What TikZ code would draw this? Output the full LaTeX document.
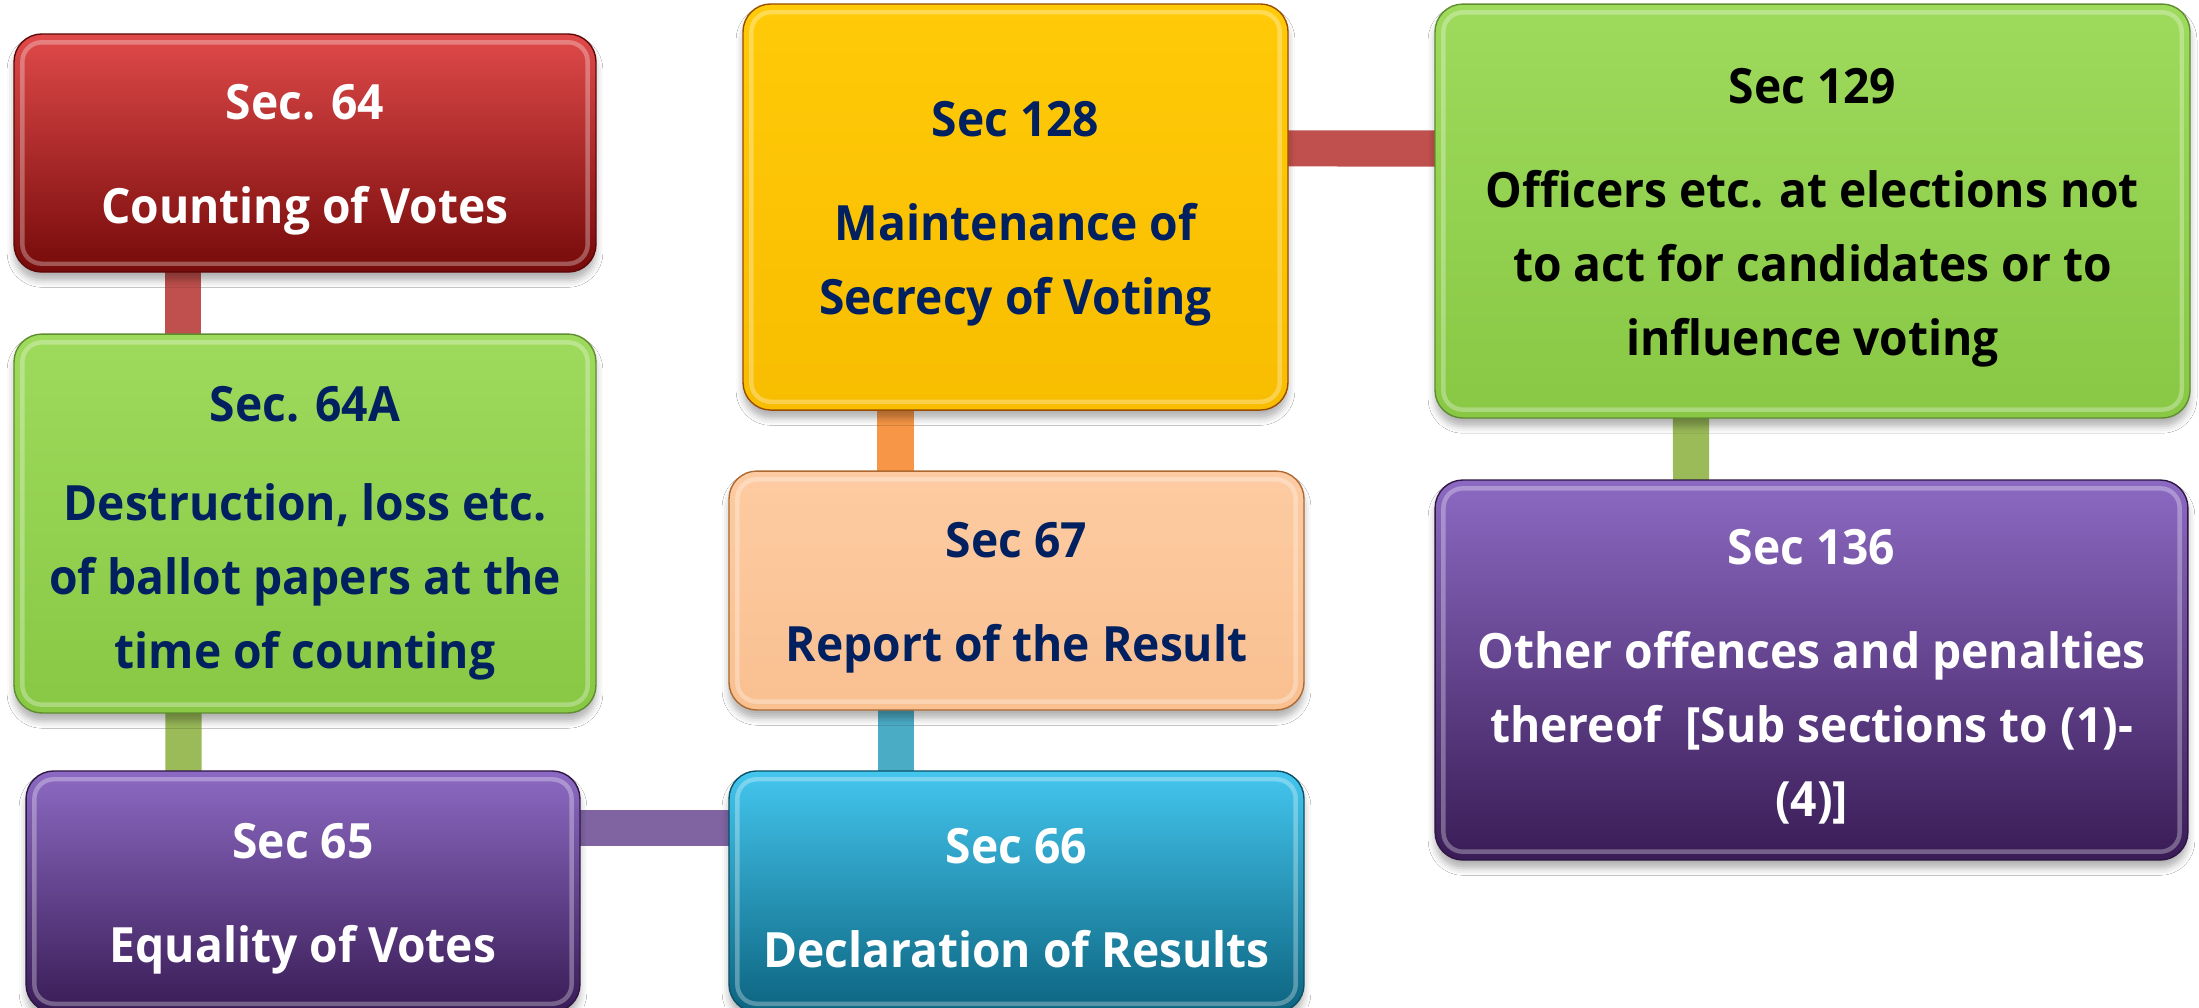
\documentclass[tikz,border=0pt]{standalone}
\usepackage{fontspec}
\setmainfont[FakeStretch=0.95]{Open Sans}
\usetikzlibrary{calc,shadows.blur}
\definecolor{navy}{HTML}{002060}
\definecolor{cred}{HTML}{C0504D}
\definecolor{cgreen}{HTML}{9BBB59}
\definecolor{cpurple}{HTML}{8064A2}
\definecolor{ccyan}{HTML}{4BACC6}
\definecolor{corange}{HTML}{F79646}
\definecolor{redT}{HTML}{E04A4A}
\definecolor{redB}{HTML}{760A0A}
\definecolor{grnT}{HTML}{9EDA5C}
\definecolor{grnB}{HTML}{88C844}
\definecolor{purT}{HTML}{8C6AC3}
\definecolor{purB}{HTML}{391C56}
\definecolor{cyaT}{HTML}{44C6EE}
\definecolor{cyaB}{HTML}{0C6480}
\definecolor{pchT}{HTML}{FDCBA2}
\definecolor{pchB}{HTML}{F9C090}
\definecolor{gldT}{HTML}{FFCA08}
\definecolor{gldB}{HTML}{F8BD00}
\newcommand\hl[1]{\draw[hilite] ([shift={(9,9)}]#1.north west) rectangle ([shift={(-9,-9)}]#1.south east);}
\begin{document}
\begin{tikzpicture}[x=0.36pt,y=-0.36pt,
  box/.style={rounded corners=10pt, line width=0.5pt, inner sep=0pt,
    blur shadow={shadow xshift=0pt, shadow yshift=-3pt, shadow blur radius=2.5pt, shadow opacity=30}},
  txt/.style={inner sep=0pt, align=center, font=\bfseries\fontsize{17.5}{26.7}\selectfont},
  redbox/.style={box, top color=redT, bottom color=redB, draw=redB!80!black},
  greenbox/.style={box, top color=grnT, bottom color=grnB, draw=grnB!70!black},
  purplebox/.style={box, top color=purT, bottom color=purB, draw=purB!80!black},
  cyanbox/.style={box, top color=cyaT, bottom color=cyaB, draw=cyaB!80!black},
  peachbox/.style={box, top color=pchT, bottom color=pchB, draw=corange!70!black},
  goldbox/.style={box, top color=gldT, bottom color=gldB, draw=orange!60!black},
  hilite/.style={rounded corners=7pt, draw=white, draw opacity=0.3, line width=1.6pt},
  conn/.style={line width=13pt, blur shadow={shadow xshift=0pt, shadow yshift=-3pt, shadow blur radius=2pt, shadow opacity=25}}]
\clip (0,0) rectangle (2199,1007);
\fill[white] (0,0) rectangle (2199,1007);

% box frames (named so the connectors can refer to them)
\node[minimum width=209.5pt, minimum height=85.7pt, inner sep=0pt] (A) at (305,153) {};
\node[minimum width=209.5pt, minimum height=136.4pt, inner sep=0pt] (B) at (305,523.5) {};
\node[minimum width=199.4pt, minimum height=86.8pt, inner sep=0pt] (C) at (303,891.5) {};
\node[minimum width=207pt, minimum height=86.8pt, inner sep=0pt] (D) at (1016.5,891.5) {};
\node[minimum width=207pt, minimum height=86pt, inner sep=0pt] (E) at (1016.5,590.5) {};
\node[minimum width=196.2pt, minimum height=146.2pt, inner sep=0pt] (F) at (1015.5,207) {};
\node[minimum width=271.8pt, minimum height=149pt, inner sep=0pt] (G) at (1812.5,211) {};
\node[minimum width=271pt, minimum height=136.8pt, inner sep=0pt] (H) at (1811.5,670) {};

% connectors (behind the boxes)
\draw[conn, cred]    ($(A.south west)+(169.5,-20)$) -- ($(B.north west)+(169.5,20)$);
\draw[conn, cgreen]  ($(B.south west)+(170,-20)$)   -- ($(C.north west)+(158,20)$);
\draw[conn, cpurple] ($(C.north east)+(-20,58)$)    -- ($(D.north west)+(20,58)$);
\draw[conn, ccyan]   ($(D.north west)+(167.5,20)$)  -- ($(E.south west)+(167.5,-20)$);
\draw[conn, corange] ($(E.north west)+(167,20)$)    -- ($(F.south west)+(153,-20)$);
\draw[conn, cred]    ($(F.north east)+(-20,145)$)   -- ($(G.north west)+(20,145)$);
\draw[conn, cgreen]  ($(G.south west)+(256.5,-20)$) -- ($(H.north west)+(256.5,20)$);

% boxes
\node[redbox, minimum width=209.5pt, minimum height=85.7pt] (A1) at (A) {};
\node[greenbox, minimum width=209.5pt, minimum height=136.4pt] (B1) at (B) {};
\node[purplebox, minimum width=199.4pt, minimum height=86.8pt] (C1) at (C) {};
\node[cyanbox, minimum width=207pt, minimum height=86.8pt] (D1) at (D) {};
\node[peachbox, minimum width=207pt, minimum height=86pt] (E1) at (E) {};
\node[goldbox, minimum width=196.2pt, minimum height=146.2pt] (F1) at (F) {};
\node[greenbox, minimum width=271.8pt, minimum height=149pt] (G1) at (G) {};
\node[purplebox, minimum width=271pt, minimum height=136.8pt] (H1) at (H) {};
\hl{A1}\hl{B1}\hl{C1}\hl{D1}\hl{E1}\hl{F1}\hl{G1}\hl{H1}

% texts
\node[txt, text=white] (A2) at ([yshift=-2.5pt]A1.center)
  {Sec. 64\\[10.8pt] Counting of Votes};
\node[txt, text=navy] (B2) at ([yshift=-3.5pt]B1.center)
  {Sec. 64A\\[9pt] Destruction, loss etc.\\ of ballot papers at the\\ time of counting};
\node[txt, text=white] (C2) at ([yshift=-2.5pt]C1.center)
  {Sec 65\\[10.8pt] Equality of Votes};
\node[txt, text=white] (D2) at ([yshift=-2.5pt]D1.center)
  {Sec 66\\[10.8pt] Declaration of Results};
\node[txt, text=navy] (E2) at ([yshift=-2.5pt]E1.center)
  {Sec 67\\[10.8pt] Report of the Result};
\node[txt, text=navy] (F2) at ([yshift=-2.5pt]F1.center)
  {Sec 128\\[10.8pt] Maintenance of\\ Secrecy of Voting};
\node[txt, text=black] (G2) at ([yshift=-2.5pt]G1.center)
  {Sec 129\\[10.8pt] Officers etc. at elections not\\ to act for candidates or to\\ influence voting};
\node[txt, text=white] (H2) at ([yshift=-2.5pt]H1.center)
  {Sec 136\\[10.8pt] Other offences and penalties\\ thereof\ \ [Sub sections to (1)-\\ (4)]};
\end{tikzpicture}
\end{document}
